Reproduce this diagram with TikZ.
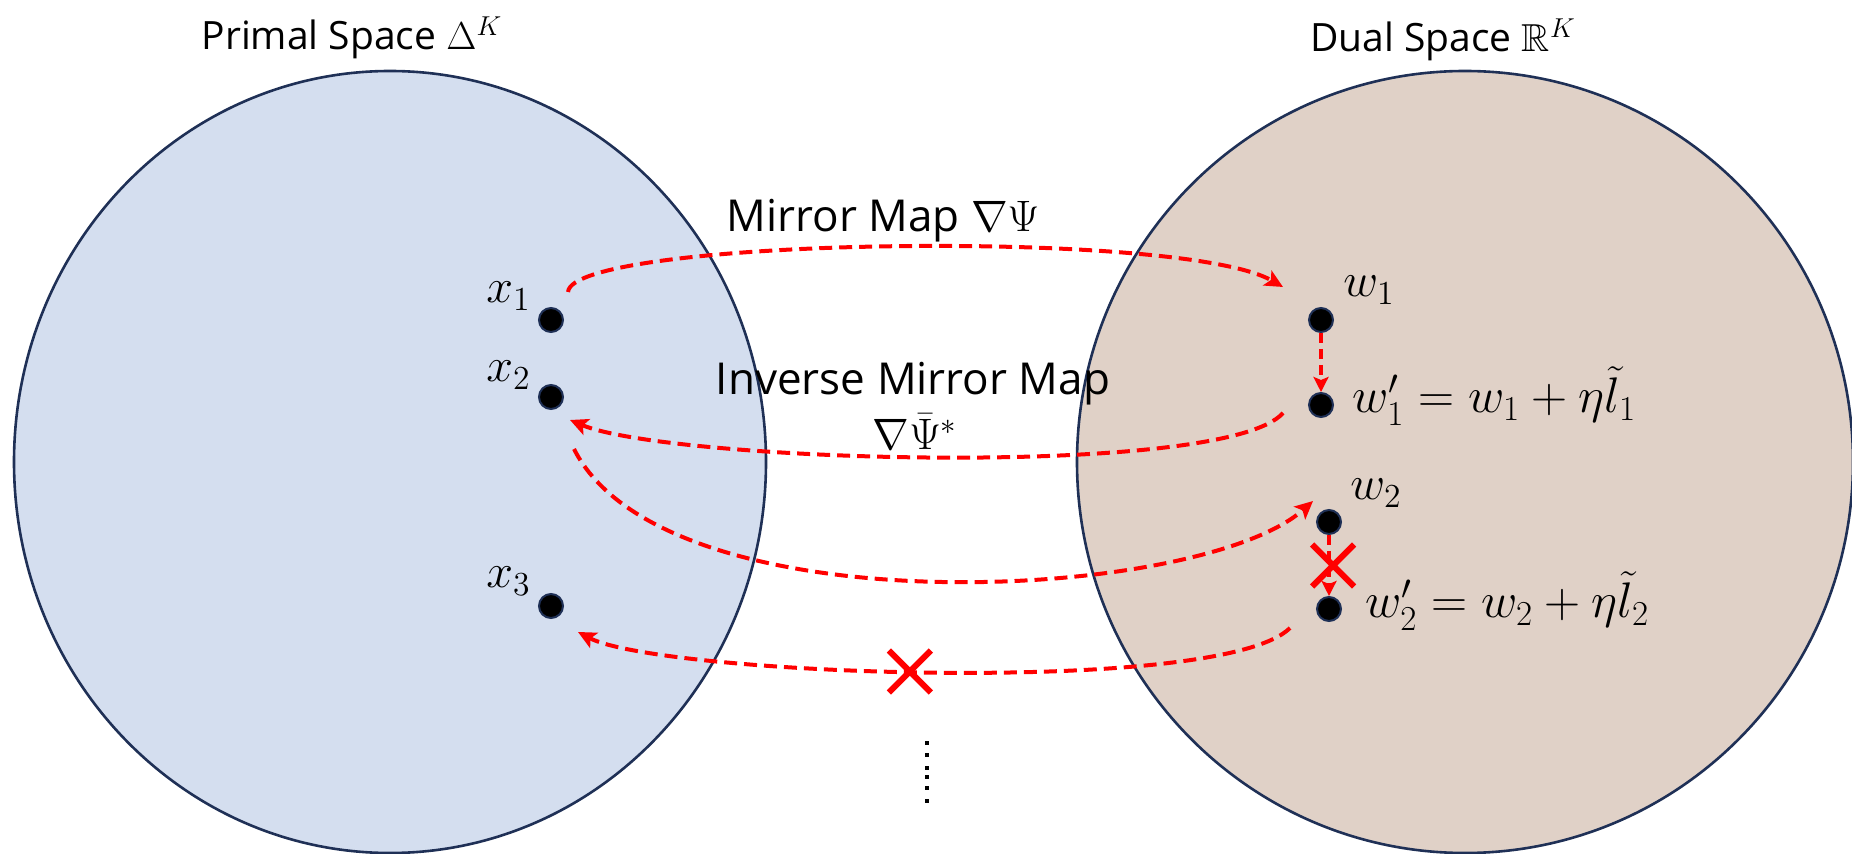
\documentclass[tikz,border=0pt]{standalone}
\usepackage{fix-cm}
\usepackage{amsmath,amssymb}
\usepackage{fontspec}
\setmainfont{Open Sans}
\usetikzlibrary{arrows.meta,shapes.geometric,shapes.misc}

\definecolor{primalfill}{RGB}{212,222,239}
\definecolor{dualfill}{RGB}{224,209,199}
\definecolor{rim}{RGB}{31,48,86}
\definecolor{mapred}{RGB}{255,0,0}

\begin{document}
\begin{tikzpicture}[x=0.5pt,y=-0.5pt,
  space/.style={ellipse, fill=#1, draw=rim, line width=1.3pt, inner sep=0pt},
  dot/.style={circle, fill=black, draw=rim, line width=1pt, minimum size=12pt, inner sep=0pt},
  mathlbl/.style={inner sep=0pt, font=\fontsize{24}{28}\selectfont},
  eqlbl/.style={inner sep=0pt, font=\fontsize{25}{29}\selectfont},
  title/.style={inner sep=0pt, font=\fontsize{19.5}{23}\selectfont},
  maplbl/.style={inner sep=0pt, font=\fontsize{22}{27}\selectfont},
  mapline/.style={draw=mapred, line width=2pt, dash pattern=on 6.5pt off 3.5pt,
    -{Stealth[length=9pt,width=8.5pt,inset=2pt]}},
  stepline/.style={draw=mapred, line width=1.8pt, dash pattern=on 5pt off 3pt,
    -{Stealth[length=7.5pt,width=7.5pt,inset=1.5pt]}},
  crossx/.style={cross out, solid, draw=mapred, line width=3pt, minimum size=18pt, inner sep=0pt},
]
\useasboundingbox (0,0) rectangle (1852,854);

% the two spaces
\node[space=primalfill, minimum width=376pt, minimum height=391pt] (primal) at (390,462) {};
\node[space=dualfill, minimum width=388pt, minimum height=391pt] (dual) at (1465,462) {};

% titles
\node[title, anchor=base] (primaltitle) at (352,50) {Primal Space $\Delta^K$};
\node[title, anchor=base] (dualtitle) at (1443,52) {Dual Space $\mathbb{R}^K$};

% map labels
\node[maplbl, anchor=base] (mirrorlbl) at (883,232) {Mirror Map $\nabla\Psi$};
\node[maplbl, anchor=base] (inverselbl) at (913,395) {Inverse Mirror Map};
\node[maplbl, anchor=base] (inversesym) at (915,450) {$\nabla\bar{\Psi}^{*}$};

% iterates
\node[dot] (x1) at (551,320) {};
\node[dot] (x2) at (551,397) {};
\node[dot] (x3) at (551,606) {};
\node[dot] (w1) at (1321,320) {};
\node[dot] (w1p) at (1321,405) {};
\node[dot] (w2) at (1329,522) {};
\node[dot] (w2p) at (1329,609) {};

\node[mathlbl, anchor=base west] (x1lbl) at (486,303) {$x_1$};
\node[mathlbl, anchor=base west] (x2lbl) at (486,382) {$x_2$};
\node[mathlbl, anchor=base west] (x3lbl) at (486,588) {$x_3$};
\node[mathlbl, anchor=base west] (w1lbl) at (1343,297) {$w_1$};
\node[eqlbl, anchor=base west] (w1plbl) at (1352,413) {$w_1' = w_1 + \eta\tilde{l}_1$};
\node[mathlbl, anchor=base west] (w2lbl) at (1350,500) {$w_2$};
\node[eqlbl, anchor=base west] (w2plbl) at (1365,618) {$w_2' = w_2 + \eta\tilde{l}_2$};

% mirror map and its inverse
\draw[mapline] ([shift={(17,-28)}]x1.center)
  .. controls (572,238) and (1180,228) .. ([shift={(-38,-33)}]w1.center);
\draw[mapline] ([shift={(-38,8)}]w1p.center)
  .. controls (1225,479) and (670,462) .. ([shift={(19,23)}]x2.center);
\draw[mapline] ([shift={(23,52)}]x2.center)
  .. controls (665,630) and (1200,602) .. ([shift={(-16,-21)}]w2.center);
\draw[mapline] ([shift={(-39,19)}]w2p.center)
  .. controls (1220,697) and (660,675) .. ([shift={(27,26)}]x3.center)
  node[crossx, pos=0.53] (cut2) {};

% gradient steps in the dual space
\draw[stepline] (w1) -- (w1p);
\draw[stepline] (w2) -- (w2p) node[crossx, pos=0.5, xshift=2pt] (cut1) {};

% continuation dots
\foreach \yy [count=\i] in {743,755,768,777,788,801}
  \fill (924.5,\yy-2) rectangle (928.5,\yy+2);
\end{tikzpicture}
\end{document}
